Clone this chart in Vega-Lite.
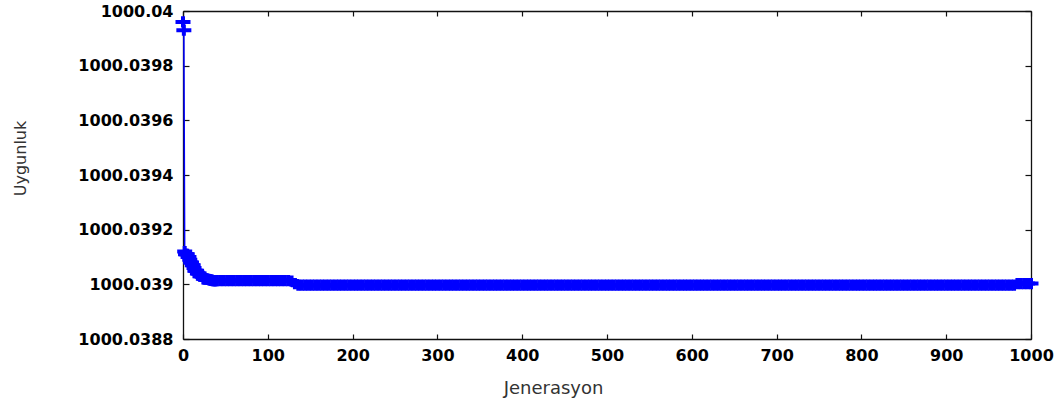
{
  "$schema": "https://vega.github.io/schema/vega-lite/v6.json",
  "width": 848,
  "height": 328,
  "autosize": {"type": "none"},
  "padding": {"left": 183, "top": 11, "right": 31, "bottom": 69},
  "background": "white",
  "data": {"values": [
    {"gen":0,"fit":1000.03996},{"gen":1,"fit":1000.03993},{"gen":2,"fit":1000.03912},{"gen":3,"fit":1000.03911},
    {"gen":4,"fit":1000.03911},{"gen":5,"fit":1000.03911},{"gen":6,"fit":1000.0391},{"gen":7,"fit":1000.0391},
    {"gen":8,"fit":1000.03909},{"gen":9,"fit":1000.03908},{"gen":10,"fit":1000.03908},{"gen":11,"fit":1000.03907},
    {"gen":12,"fit":1000.03907},{"gen":13,"fit":1000.03906},{"gen":14,"fit":1000.03905},{"gen":15,"fit":1000.03905},
    {"gen":16,"fit":1000.03905},{"gen":17,"fit":1000.03904},{"gen":18,"fit":1000.03904},{"gen":19,"fit":1000.03904},
    {"gen":20,"fit":1000.03903},{"gen":21,"fit":1000.03903},{"gen":22,"fit":1000.03903},{"gen":23,"fit":1000.03903},
    {"gen":24,"fit":1000.03902},{"gen":25,"fit":1000.03902},{"gen":26,"fit":1000.03902},{"gen":27,"fit":1000.03902},
    {"gen":28,"fit":1000.03902},{"gen":29,"fit":1000.039018},{"gen":30,"fit":1000.039018},{"gen":31,"fit":1000.039016},
    {"gen":32,"fit":1000.039016},{"gen":33,"fit":1000.039015},{"gen":34,"fit":1000.039015},{"gen":35,"fit":1000.039014},
    {"gen":36,"fit":1000.039014},{"gen":37,"fit":1000.039014},{"gen":38,"fit":1000.039014},{"gen":39,"fit":1000.039014},
    {"gen":40,"fit":1000.039014},{"gen":44,"fit":1000.039014},{"gen":48,"fit":1000.039014},{"gen":52,"fit":1000.039014},
    {"gen":56,"fit":1000.039014},{"gen":60,"fit":1000.039014},{"gen":64,"fit":1000.039014},{"gen":68,"fit":1000.039014},
    {"gen":72,"fit":1000.039014},{"gen":76,"fit":1000.039014},{"gen":80,"fit":1000.039014},{"gen":84,"fit":1000.039014},
    {"gen":88,"fit":1000.039014},{"gen":92,"fit":1000.039014},{"gen":96,"fit":1000.039014},{"gen":100,"fit":1000.039014},
    {"gen":104,"fit":1000.039014},{"gen":108,"fit":1000.039014},{"gen":112,"fit":1000.039014},{"gen":116,"fit":1000.039014},
    {"gen":120,"fit":1000.039014},{"gen":124,"fit":1000.039014},{"gen":128,"fit":1000.039012},{"gen":132,"fit":1000.039003},
    {"gen":136,"fit":1000.038997},{"gen":140,"fit":1000.038997},{"gen":144,"fit":1000.038997},{"gen":148,"fit":1000.038997},
    {"gen":152,"fit":1000.038997},{"gen":156,"fit":1000.038997},{"gen":160,"fit":1000.038997},{"gen":164,"fit":1000.038997},
    {"gen":168,"fit":1000.038997},{"gen":172,"fit":1000.038997},{"gen":176,"fit":1000.038997},{"gen":180,"fit":1000.038997},
    {"gen":184,"fit":1000.038997},{"gen":188,"fit":1000.038997},{"gen":192,"fit":1000.038997},{"gen":196,"fit":1000.038997},
    {"gen":200,"fit":1000.038997},{"gen":204,"fit":1000.038997},{"gen":208,"fit":1000.038997},{"gen":212,"fit":1000.038997},
    {"gen":216,"fit":1000.038997},{"gen":220,"fit":1000.038997},{"gen":224,"fit":1000.038997},{"gen":228,"fit":1000.038997},
    {"gen":232,"fit":1000.038997},{"gen":236,"fit":1000.038997},{"gen":240,"fit":1000.038997},{"gen":244,"fit":1000.038997},
    {"gen":248,"fit":1000.038997},{"gen":252,"fit":1000.038997},{"gen":256,"fit":1000.038997},{"gen":260,"fit":1000.038997},
    {"gen":264,"fit":1000.038997},{"gen":268,"fit":1000.038997},{"gen":272,"fit":1000.038997},{"gen":276,"fit":1000.038997},
    {"gen":280,"fit":1000.038997},{"gen":284,"fit":1000.038997},{"gen":288,"fit":1000.038997},{"gen":292,"fit":1000.038997},
    {"gen":296,"fit":1000.038997},{"gen":300,"fit":1000.038997},{"gen":304,"fit":1000.038997},{"gen":308,"fit":1000.038997},
    {"gen":312,"fit":1000.038997},{"gen":316,"fit":1000.038997},{"gen":320,"fit":1000.038997},{"gen":324,"fit":1000.038997},
    {"gen":328,"fit":1000.038997},{"gen":332,"fit":1000.038997},{"gen":336,"fit":1000.038997},{"gen":340,"fit":1000.038997},
    {"gen":344,"fit":1000.038997},{"gen":348,"fit":1000.038997},{"gen":352,"fit":1000.038997},{"gen":356,"fit":1000.038997},
    {"gen":360,"fit":1000.038997},{"gen":364,"fit":1000.038997},{"gen":368,"fit":1000.038997},{"gen":372,"fit":1000.038997},
    {"gen":376,"fit":1000.038997},{"gen":380,"fit":1000.038997},{"gen":384,"fit":1000.038997},{"gen":388,"fit":1000.038997},
    {"gen":392,"fit":1000.038997},{"gen":396,"fit":1000.038997},{"gen":400,"fit":1000.038997},{"gen":404,"fit":1000.038997},
    {"gen":408,"fit":1000.038997},{"gen":412,"fit":1000.038997},{"gen":416,"fit":1000.038997},{"gen":420,"fit":1000.038997},
    {"gen":424,"fit":1000.038997},{"gen":428,"fit":1000.038997},{"gen":432,"fit":1000.038997},{"gen":436,"fit":1000.038997},
    {"gen":440,"fit":1000.038997},{"gen":444,"fit":1000.038997},{"gen":448,"fit":1000.038997},{"gen":452,"fit":1000.038997},
    {"gen":456,"fit":1000.038997},{"gen":460,"fit":1000.038997},{"gen":464,"fit":1000.038997},{"gen":468,"fit":1000.038997},
    {"gen":472,"fit":1000.038997},{"gen":476,"fit":1000.038997},{"gen":480,"fit":1000.038997},{"gen":484,"fit":1000.038997},
    {"gen":488,"fit":1000.038997},{"gen":492,"fit":1000.038997},{"gen":496,"fit":1000.038997},{"gen":500,"fit":1000.038997},
    {"gen":504,"fit":1000.038997},{"gen":508,"fit":1000.038997},{"gen":512,"fit":1000.038997},{"gen":516,"fit":1000.038997},
    {"gen":520,"fit":1000.038997},{"gen":524,"fit":1000.038997},{"gen":528,"fit":1000.038997},{"gen":532,"fit":1000.038997},
    {"gen":536,"fit":1000.038997},{"gen":540,"fit":1000.038997},{"gen":544,"fit":1000.038997},{"gen":548,"fit":1000.038997},
    {"gen":552,"fit":1000.038997},{"gen":556,"fit":1000.038997},{"gen":560,"fit":1000.038997},{"gen":564,"fit":1000.038997},
    {"gen":568,"fit":1000.038997},{"gen":572,"fit":1000.038997},{"gen":576,"fit":1000.038997},{"gen":580,"fit":1000.038997},
    {"gen":584,"fit":1000.038997},{"gen":588,"fit":1000.038997},{"gen":592,"fit":1000.038997},{"gen":596,"fit":1000.038997},
    {"gen":600,"fit":1000.038997},{"gen":604,"fit":1000.038997},{"gen":608,"fit":1000.038997},{"gen":612,"fit":1000.038997},
    {"gen":616,"fit":1000.038997},{"gen":620,"fit":1000.038997},{"gen":624,"fit":1000.038997},{"gen":628,"fit":1000.038997},
    {"gen":632,"fit":1000.038997},{"gen":636,"fit":1000.038997},{"gen":640,"fit":1000.038997},{"gen":644,"fit":1000.038997},
    {"gen":648,"fit":1000.038997},{"gen":652,"fit":1000.038997},{"gen":656,"fit":1000.038997},{"gen":660,"fit":1000.038997},
    {"gen":664,"fit":1000.038997},{"gen":668,"fit":1000.038997},{"gen":672,"fit":1000.038997},{"gen":676,"fit":1000.038997},
    {"gen":680,"fit":1000.038997},{"gen":684,"fit":1000.038997},{"gen":688,"fit":1000.038997},{"gen":692,"fit":1000.038997},
    {"gen":696,"fit":1000.038997},{"gen":700,"fit":1000.038997},{"gen":704,"fit":1000.038997},{"gen":708,"fit":1000.038997},
    {"gen":712,"fit":1000.038997},{"gen":716,"fit":1000.038997},{"gen":720,"fit":1000.038997},{"gen":724,"fit":1000.038997},
    {"gen":728,"fit":1000.038997},{"gen":732,"fit":1000.038997},{"gen":736,"fit":1000.038997},{"gen":740,"fit":1000.038997},
    {"gen":744,"fit":1000.038997},{"gen":748,"fit":1000.038997},{"gen":752,"fit":1000.038997},{"gen":756,"fit":1000.038997},
    {"gen":760,"fit":1000.038997},{"gen":764,"fit":1000.038997},{"gen":768,"fit":1000.038997},{"gen":772,"fit":1000.038997},
    {"gen":776,"fit":1000.038997},{"gen":780,"fit":1000.038997},{"gen":784,"fit":1000.038997},{"gen":788,"fit":1000.038997},
    {"gen":792,"fit":1000.038997},{"gen":796,"fit":1000.038997},{"gen":800,"fit":1000.038997},{"gen":804,"fit":1000.038997},
    {"gen":808,"fit":1000.038997},{"gen":812,"fit":1000.038997},{"gen":816,"fit":1000.038997},{"gen":820,"fit":1000.038997},
    {"gen":824,"fit":1000.038997},{"gen":828,"fit":1000.038997},{"gen":832,"fit":1000.038997},{"gen":836,"fit":1000.038997},
    {"gen":840,"fit":1000.038997},{"gen":844,"fit":1000.038997},{"gen":848,"fit":1000.038997},{"gen":852,"fit":1000.038997},
    {"gen":856,"fit":1000.038997},{"gen":860,"fit":1000.038997},{"gen":864,"fit":1000.038997},{"gen":868,"fit":1000.038997},
    {"gen":872,"fit":1000.038997},{"gen":876,"fit":1000.038997},{"gen":880,"fit":1000.038997},{"gen":884,"fit":1000.038997},
    {"gen":888,"fit":1000.038997},{"gen":892,"fit":1000.038997},{"gen":896,"fit":1000.038997},{"gen":900,"fit":1000.038997},
    {"gen":904,"fit":1000.038997},{"gen":908,"fit":1000.038997},{"gen":912,"fit":1000.038997},{"gen":916,"fit":1000.038997},
    {"gen":920,"fit":1000.038997},{"gen":924,"fit":1000.038997},{"gen":928,"fit":1000.038997},{"gen":932,"fit":1000.038997},
    {"gen":936,"fit":1000.038997},{"gen":940,"fit":1000.038997},{"gen":944,"fit":1000.038997},{"gen":948,"fit":1000.038997},
    {"gen":952,"fit":1000.038997},{"gen":956,"fit":1000.038997},{"gen":960,"fit":1000.038997},{"gen":964,"fit":1000.038997},
    {"gen":968,"fit":1000.038997},{"gen":972,"fit":1000.038997},{"gen":976,"fit":1000.038997},{"gen":980,"fit":1000.038997},
    {"gen":984,"fit":1000.039003},{"gen":988,"fit":1000.039003},{"gen":992,"fit":1000.039003},{"gen":996,"fit":1000.039003},
    {"gen":1000,"fit":1000.039003}
  ]},
  "layer": [
    {
      "mark": {"type": "line", "color": "#0000ff", "strokeWidth": 1.5},
      "encoding": {
        "x": {"field": "gen", "type": "quantitative", "scale": {"domain": [0, 1000], "nice": false},
          "axis": {"orient": "bottom", "values": [0,100,200,300,400,500,600,700,800,900,1000], "format": "d", "tickSize": -5, "labelPadding": 13,
            "title": "Jenerasyon", "titleX": 370, "titleY": 49, "titleAlign": "center", "titleBaseline": "middle",
            "titleFontSize": 18, "titleFontWeight": "normal", "titleFont": "DejaVu Sans", "titleColor": "#333333"}},
        "y": {"field": "fit", "type": "quantitative", "scale": {"domain": [1000.0388, 1000.04], "nice": false, "zero": false},
          "axis": {"orient": "left", "values": [1000.0388,1000.039,1000.0392,1000.0394,1000.0396,1000.0398,1000.04], "format": ".4~f",
            "tickSize": -6, "labelPadding": 16,
            "title": "Uygunluk", "titleX": -163, "titleY": 147, "titleAlign": "center", "titleBaseline": "middle", "titleAngle": -90,
            "titleFontSize": 16, "titleFontWeight": "normal", "titleFont": "DejaVu Sans", "titleColor": "#333333"}}
      }
    },
    {
      "mark": {"type": "point", "shape": "M-1,0H1M0,-0.75V0.75", "filled": false, "stroke": "#0000ff", "strokeWidth": 4, "size": 225, "opacity": 1},
      "encoding": {
        "x": {"field": "gen", "type": "quantitative", "scale": {"domain": [0, 1000], "nice": false},
          "axis": {"orient": "top", "values": [0,100,200,300,400,500,600,700,800,900,1000], "tickSize": -5, "labels": false, "title": null}},
        "y": {"field": "fit", "type": "quantitative", "scale": {"domain": [1000.0388, 1000.04], "nice": false, "zero": false},
          "axis": {"orient": "right", "values": [1000.0388,1000.039,1000.0392,1000.0394,1000.0396,1000.0398,1000.04], "tickSize": -6, "labels": false, "title": null}}
      }
    }
  ],
  "resolve": {"axis": {"x": "independent", "y": "independent"}},
  "config": {
    "view": {"stroke": null},
    "axis": {"grid": false, "domainColor": "#111111", "domainWidth": 1.3, "tickColor": "#111111", "tickWidth": 1.2,
      "labelFont": "DejaVu Sans", "labelFontWeight": "bold", "labelFontSize": 16, "labelColor": "#000000",
      "labelFlush": false, "labelOverlap": false}
  }
}
